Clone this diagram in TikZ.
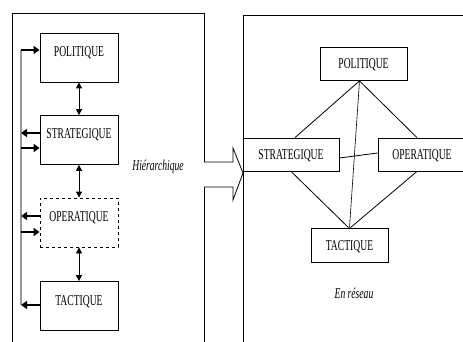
\documentclass[tikz,border=0pt]{standalone}
\usepackage{fontspec}
\newfontfamily\boxfont[FakeStretch=0.64]{Liberation Serif}
\usetikzlibrary{arrows.meta}

\begin{document}
\begin{tikzpicture}[x=1pt, y=-1pt,
    level/.style={rectangle, draw, line width=0.8pt, inner sep=0pt, font=\boxfont\fontsize{15}{18}\selectfont},
    lbox/.style={level, minimum width=78pt, minimum height=49pt, text height=10pt, text depth=12pt},
    rbox/.style={level, minimum height=33pt, text height=10pt, text depth=0pt},
    fat/.style={line width=2pt, -{Triangle[length=6pt, width=8pt]}},
    link/.style={line width=0.8pt, {Triangle[length=6pt, width=6pt]}-{Triangle[length=6pt, width=6pt]}},
    caption/.style={font=\boxfont\itshape\fontsize{15}{18}\selectfont}]
    \clip (0,0) rectangle (463,342);

    % Frames
    \draw[line width=0.8pt] (12,342) |- (204,13) -- (204,342);
    \draw[line width=0.8pt] (243,342) |- (470,15);

    % Hierarchical levels
    \node [lbox] (lpol) at (79,57.5) {POLITIQUE};
    \node [lbox] (lstr) at (79,140) {STRATEGIQUE};
    \node [lbox, dashed] (lope) at (79,222.5) {OPERATIQUE};
    \node [lbox] (ltac) at (79,306) {TACTIQUE};

    % Links between levels
    \draw[link] (lpol) -- (lstr);
    \draw[link] (lstr) -- (lope);
    \draw[link] (lope) -- (ltac);

    % Side loop
    \coordinate (spinetop) at (21,50);
    \coordinate (spinebot) at (21,305);
    \draw[line width=1.5pt, black!40] (spinetop) -- (spinebot);
    \draw[fat] (spinetop) -- (spinetop -| lpol.west);
    \draw[fat] ([yshift=7pt]lstr.west) coordinate (s1) -- (s1 -| spinetop);
    \draw[fat] ([yshift=-8pt]lstr.west -| spinetop) coordinate (s2) -- (s2 -| lstr.west);
    \draw[fat] ([yshift=6.5pt]lope.west) coordinate (o1) -- (o1 -| spinetop);
    \draw[fat] ([yshift=-9.5pt]lope.west -| spinetop) coordinate (o2) -- (o2 -| lope.west);
    \draw[fat] (ltac.west |- spinebot) -- (spinebot);

    \node [caption] (hier) at (158,167) {Hiérarchique};

    % Big arrow
    \draw[line width=0.8pt, fill=white] (204,162) -- (233,162) -- (233,148) -- (243,173) -- (233,200) -- (233,187) -- (204,187);

    % Network levels
    \node [rbox, minimum width=87pt] (rpol) at (363.5,64) {POLITIQUE};
    \node [rbox, minimum width=96pt] (rstr) at (291,154.5) {STRATEGIQUE};
    \node [rbox, minimum width=88pt] (rope) at (422,154.5) {OPERATIQUE};
    \node [rbox, minimum width=77pt, minimum height=34pt] (rtac) at (349.5,245) {TACTIQUE};

    % Network links
    \draw[line width=0.8pt] ([xshift=-4pt]rpol.south) -- ([xshift=4pt]rstr.north);
    \draw[line width=0.8pt] ([xshift=-4pt]rpol.south) -- ([xshift=-5pt]rope.north);
    \draw[line width=0.6pt] ([xshift=-4pt]rpol.south) -- (rtac.north);
    \draw[line width=0.8pt] (rstr.south) -- ([xshift=-1pt]rtac.north);
    \draw[line width=0.8pt] ([xshift=-5pt]rope.south) -- ([xshift=1pt]rtac.north);
    \draw[line width=0.8pt] ([yshift=-3.5pt]rstr.east) -- ([yshift=1.5pt]rope.west);

    \node [caption] (net) at (354,293) {En réseau};
\end{tikzpicture}
\end{document}
